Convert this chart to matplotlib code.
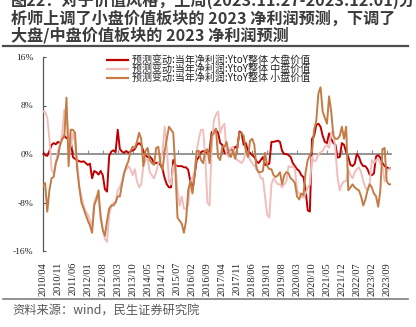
import numpy as np
import matplotlib.pyplot as plt
from matplotlib.lines import Line2D
from matplotlib.ticker import FuncFormatter

# monthly points, 2010/04 onwards
tick_labels = ['2010/04', '2010/11', '2011/06', '2012/01', '2012/08', '2013/03',
               '2013/10', '2014/05', '2014/12', '2015/07', '2016/02', '2016/09',
               '2017/04', '2017/11', '2018/06', '2019/01', '2019/08', '2020/03',
               '2020/10', '2021/05', '2021/12', '2022/07', '2023/02', '2023/09']
tick_step = 7

large_value = [
    0.3, -0.2, -0.3, 0.5, 1.5, 1.8, 1.6, 2.0, 1.8, 2.5,
    3.0, 2.6, 2.8, 2.2, -0.5, -0.8, -1.0, -1.2, -1.3, -1.2,
    -1.5, -1.8, -1.6, -4.0, -2.8, -3.0, -3.4, -2.8, -3.5, -5.8,
    -6.2, -0.3, 0.4, 0.6, 0.3, 4.0, 0.8, 0.4, 0.2, 0.5,
    0.2, 0.4, 0.6, 0.8, 1.5, 1.8, 1.5, 0.5, -0.2, -0.5,
    -0.4, -0.8, -1.5, -1.5, -1.4, -1.8, -2.5, -4.0, -5.0, -5.5,
    -5.5, -1.0, -1.8, -2.0, -2.0, -2.0, -2.2, -2.2, -2.6, -4.5,
    -6.0, -3.5, -1.0, -0.5, 0.3, 0.5, 0.3, 0.2, 0.5, 3.6,
    3.8, 4.0, 3.5, 1.8, 1.5, 0.2, 0.0, 0.3, 0.8, 0.5,
    1.2, 1.0, 3.7, 3.5, 1.5, 1.8, 0.5, 0.2, -0.2, -0.5,
    -1.2, -1.5, -1.0, -0.5, -1.8, -1.8, -1.6, 2.0, 2.0, 2.1,
    2.2, 2.0, 0.5, 0.0, 0.0, -0.2, -0.5, -1.5, -2.0, -2.5,
    -2.8, -3.5, -3.8, -6.0, -9.3, -9.5, 2.5, 3.0, 4.8, 5.0,
    4.5, 3.0, 2.0, 1.8, 3.4, 2.5, 1.8, 1.5, -0.6, -0.5,
    1.8, 1.5, 0.3, -0.5, -1.8, -2.0, -1.6, 0.0, -0.5, -1.5,
    -2.0, -2.0, -2.5, -3.4, -3.5, -3.2, -0.4, -0.2, -0.6, -1.5,
    -2.0, -2.2, -2.4, -2.4]

mid_value = [
    7.0, 7.0, 6.0, 2.5, -2.6, -3.2, -1.5, 0.5, 1.5, 3.5,
    7.3, 6.5, 3.5, 1.2, 3.4, 2.0, -1.5, -5.5, -7.0, -8.5,
    -9.5, -10.0, -11.0, -12.0, -8.0, -7.0, -7.5, -10.0, -12.5, -14.0,
    -14.5, -10.0, -8.5, -8.0, -8.0, -6.0, -5.5, -4.5, -3.0, -2.5,
    -2.0, -2.5, -3.5, -2.5, -4.5, -5.5, -5.0, -2.0, -1.0, -0.8,
    -3.0, -3.5, -4.0, -3.0, -1.5, -1.0, 0.5, 4.5, 1.0, -4.5,
    -5.0, -2.0, -1.5, -6.0, -8.5, -7.0, -9.0, -9.0, -8.5, -4.5,
    -4.0, -3.0, 0.5, 2.5, 4.0, 4.0, -0.5, -8.0, -8.5, 1.0,
    5.5, 6.5, 7.0, 3.5, 4.5, 5.0, 0.0, -0.5, 1.0, 1.2,
    -0.5, -1.0, -1.2, -1.5, -1.0, 0.5, 0.0, -1.0, -1.5, -2.0,
    -2.0, -3.0, -4.0, -4.0, -7.0, -10.0, -10.5, -5.0, -4.0, -4.5,
    -5.0, -5.0, -5.5, -5.0, -4.5, -2.0, -2.2, -2.0, -2.5, -6.0,
    -6.5, -7.0, -7.2, -6.5, -5.5, -5.0, -0.5, -1.2, -1.0, 0.0,
    0.3, 0.5, 1.2, 1.5, 1.0, 3.5, 3.8, 0.5, -4.0, -6.0,
    -5.0, -4.5, -4.5, -2.5, -3.5, -4.0, -3.0, -2.5, -2.2, -3.0,
    -4.5, -5.5, -6.0, -5.0, -1.0, -1.5, -1.0, -0.8, -1.5, -2.0,
    -4.5, -3.0, -2.5, -2.5]

small_value = [
    -5.3, -4.8, -9.5, -6.0, -4.0, -3.8, -1.5, -0.5, 1.5, 2.5,
    3.0, 9.3, -2.0, 4.0, 4.0, 3.5, -2.5, -5.5, -8.0, -9.0,
    -10.0, -11.0, -11.8, -13.0, -8.5, -7.5, -6.0, -10.5, -12.5, -13.5,
    -11.0, -9.0, -8.5, -8.5, -8.0, -7.0, -7.0, -5.0, -3.2, -2.0,
    -1.2, 0.5, 1.2, 1.0, 2.0, 3.5, 2.5, -2.0, 0.5, 1.0,
    -1.0, -1.5, -1.8, 1.0, 1.2, -1.5, -2.6, 0.5, 2.5, 4.5,
    4.0, 3.5, -2.5, -10.5, -11.0, -11.5, -13.0, -11.0, -6.0, -4.5,
    -6.5, -3.5, 0.5, 0.5, -1.0, -1.5, 0.5, 0.8, -1.5, 3.0,
    3.4, 4.2, -0.5, -1.0, 1.2, 1.2, 2.0, 0.0, -0.5, 0.5,
    -0.8, 1.0, 3.5, 3.4, 3.0, 0.5, -0.5, 2.2, 2.5, 1.5,
    -2.5, -3.0, -3.0, -2.8, 0.2, -2.0, -2.5, -2.5, -3.5, -3.8,
    -3.5, -3.0, -5.0, -3.5, -3.0, -3.2, -4.0, -4.3, -4.8, -7.0,
    -7.5, -6.5, -6.8, -3.0, -1.0, -0.2, 0.5, 4.0, 5.5, 10.0,
    11.0, 7.0, 6.0, 5.0, 9.5, 7.0, 3.0, 2.5, 2.5, 3.0,
    4.5, 2.5, 4.5, -6.0, -5.5, -5.0, -5.5, -5.8, -6.0, -7.0,
    -8.5, -7.5, -6.0, -5.0, -5.5, -6.5, -7.0, -8.7, -6.0, 0.8,
    1.0, -4.5, -5.0, -5.0]

series_names = ['预测变动:当年净利润:YtoY整体 大盘价值',
                '预测变动:当年净利润:YtoY整体 中盘价值',
                '预测变动:当年净利润:YtoY整体 小盘价值']
series_colors = ['#C00000', '#F0BEBC', '#C47B45']

title_lines = ['图22：对于价值风格，上周(2023.11.27-2023.12.01)分',
               '析师上调了小盘价值板块的 2023 净利润预测，下调了',
               '大盘/中盘价值板块的 2023 净利润预测']
source_text = '资料来源：wind，民生证券研究院'

W, H = 416, 327
fig = plt.figure(figsize=(W / 100, H / 100), dpi=100)
ax = fig.add_axes([43 / W, 76 / H, 348 / W, 194 / H])

x = np.arange(len(large_value))
for vals, name, col in zip([large_value, mid_value, small_value], series_names, series_colors):
    ax.plot(x, vals, color=col, lw=1.4, label=name, zorder=3)

ax.set_xlim(0, 163)
ax.set_ylim(-16, 16)
ax.set_yticks([-16, -8, 0, 8, 16])
ax.yaxis.set_major_formatter(FuncFormatter(lambda v, p: f'{v:.0f}%'))

for s in ['top', 'right']:
    ax.spines[s].set_visible(False)
ax.spines['left'].set_color('#595959')
ax.spines['left'].set_linewidth(0.9)
# zero line doubles as the x axis
ax.spines['bottom'].set_position(('data', 0))
ax.spines['bottom'].set_color('#8c8c8c')
ax.spines['bottom'].set_linewidth(1.3)
ax.spines['bottom'].set_zorder(2)

tick_pos = np.arange(len(tick_labels)) * tick_step
ax.set_xticks(tick_pos)
ax.tick_params(axis='x', direction='in', length=3, color='#8c8c8c', labelbottom=False)
ax.tick_params(axis='y', direction='in', length=2.5, color='#595959', pad=7,
               labelsize=6.8, labelcolor='#222222')
for lab in ax.get_yticklabels():
    lab.set_family('Liberation Serif')

sec = ax.secondary_xaxis('bottom')
sec.set_xticks(tick_pos, tick_labels, rotation=90, family='Liberation Serif',
               fontsize=7.4, color='#222222')
sec.spines['bottom'].set_visible(False)
sec.tick_params(length=0, pad=8)

leg = ax.legend(loc='upper left', bbox_to_anchor=(107 / W, 1 - 55 / H),
                bbox_transform=fig.transFigure, frameon=False,
                prop={'family': 'Noto Sans CJK SC', 'size': 7.2},
                handlelength=2.1, handletextpad=0.4, labelspacing=-0.1,
                borderpad=0, borderaxespad=0)
for t in leg.get_texts():
    t.set_color('#222222')
for ln in leg.get_lines():
    ln.set_linewidth(1.6)

for text, yc in zip(title_lines, [0.5, 18.5, 35]):
    fig.text(11 / W, 1 - yc / H, text, ha='left', va='center', fontsize=11.6,
             fontweight='bold', family=['Noto Sans CJK SC', 'DejaVu Sans'], color='#3b3b3b')

fig.add_artist(Line2D([3 / W, 408 / W], [1 - 46 / H] * 2, color='#4d4d4d', lw=1.6))
fig.add_artist(Line2D([3 / W, 408 / W], [1 - 299 / H] * 2, color='#7f7f7f', lw=1.2))
fig.text(12 / W, 1 - 311.5 / H, source_text, ha='left', va='center', fontsize=8.8,
         family=['Noto Sans CJK SC', 'DejaVu Sans'], color='#595959')

fig.savefig('out.png', dpi=100)
